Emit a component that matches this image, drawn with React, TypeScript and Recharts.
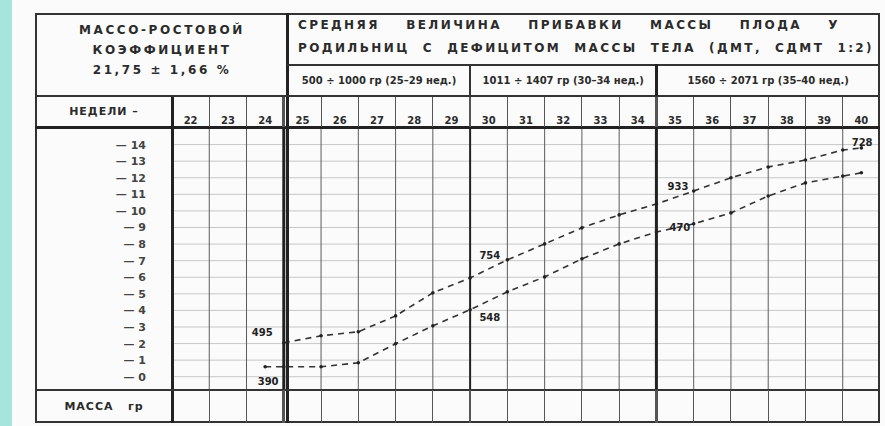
import { LineChart, Line, XAxis, YAxis, ReferenceLine, ReferenceDot } from "recharts";

const WEEKS = ["22", "23", "24", "25", "26", "27", "28", "29", "30", "31", "32", "33", "34", "35", "36", "37", "38", "39", "40"];
const POS = [2.5, 3, 4, 5, 6, 7, 8, 9, 10, 11, 12, 13, 14, 15, 16, 17, 18, 18.5];
const UPPER = [null, 2.05, 2.47, 2.71, 3.67, 5.06, 5.96, 7.05, 8.01, 8.98, 9.76, 10.42, 11.2, 12.0, 12.65, 13.07, 13.67, 13.8];
const LOWER = [0.6, 0.6, 0.6, 0.84, 1.99, 3.07, 4.04, 5.12, 6.02, 7.11, 8.01, 8.73, 9.22, 9.88, 10.9, 11.69, 12.1, 12.3];
const Y_TICKS = [0, 1, 2, 3, 4, 5, 6, 7, 8, 9, 10, 11, 12, 13, 14];
const NOTES = [
  { x: 2.42, y: 2.65, text: "495" },
  { x: 2.58, y: -0.3, text: "390" },
  { x: 8.53, y: 7.3, text: "754" },
  { x: 8.53, y: 3.55, text: "548" },
  { x: 13.58, y: 11.45, text: "933" },
  { x: 13.63, y: 8.98, text: "470" },
  { x: 18.52, y: 14.1, text: "728" },
];
const SUBHEADS = ["500 ÷ 1000 гр (25–29 нед.)", "1011 ÷ 1407 гр (30–34 нед.)", "1560 ÷ 2071 гр (35–40 нед.)"];

const data = POS.map((x, i) => ({ x, upper: UPPER[i], lower: LOWER[i] }));

const FONT = "'DejaVu Sans', sans-serif";
const INK = "#2b2b2b";
const COLS = WEEKS.length;
const PLOT_L = 172;
const PLOT_R = 880;
const colX = (k: number) => PLOT_L + (k * (PLOT_R - PLOT_L)) / COLS;

const box = (left: number, top: number, width: number, height: number, extra: any = {}) => ({
  position: "absolute" as const,
  left,
  top,
  width,
  height,
  boxSizing: "border-box" as const,
  ...extra,
});

function YTick({ y, payload }: any) {
  return (
    <text x={146} y={y + 4} textAnchor="end" fontSize={11} fontFamily={FONT} fontWeight={700} fill="#444">
      {"— " + payload.value}
    </text>
  );
}

export default function App() {
  const lineW = (k: number) => (k === 3 || k === 13 ? 3 : k === 8 ? 2 : 1);
  const cols = Array.from({ length: COLS - 1 }, (_, i) => i + 1);
  const textStyle = { fontFamily: FONT, fontWeight: 700, color: INK };

  return (
    <div style={{ position: "absolute", left: 0, top: 0, width: 885, height: 426, background: "#fbfbfb", overflow: "hidden" }}>
      <div style={box(0, 0, 12, 426, { background: "#a6e4dc" })} />
      <LineChart width={885} height={426} data={data} margin={{ top: 97, right: 5, bottom: 36, left: 112 }}>
        <XAxis
          type="number"
          dataKey="x"
          orientation="top"
          height={31}
          domain={[0, COLS]}
          ticks={WEEKS.map((_, i) => i + 0.5)}
          tickFormatter={(v: number) => WEEKS[Math.floor(v)]}
          axisLine={false}
          tickLine={false}
          tick={{ fontSize: 10, fontFamily: FONT, fontWeight: 700, fill: INK, dy: 4 }}
          interval={0}
        />
        <YAxis
          type="number"
          width={60}
          domain={[-0.8, 15]}
          ticks={Y_TICKS}
          axisLine={false}
          tickLine={false}
          tick={<YTick />}
          interval={0}
        />
        {Y_TICKS.map((t) => (
          <ReferenceLine key={"h" + t} y={t} stroke="#c8c8c8" strokeWidth={1} />
        ))}
        {cols.map((k) => (
          <ReferenceLine key={"v" + k} x={k} stroke={lineW(k) > 1 ? "#222" : "#5c5c5c"} strokeWidth={lineW(k)} />
        ))}
        <Line
          dataKey="upper"
          type="linear"
          stroke="#333"
          strokeWidth={1.6}
          strokeDasharray="6 5"
          dot={{ r: 1.8, fill: "#222", stroke: "none" }}
          isAnimationActive={false}
        />
        <Line
          dataKey="lower"
          type="linear"
          stroke="#333"
          strokeWidth={1.6}
          strokeDasharray="6 5"
          dot={{ r: 1.8, fill: "#222", stroke: "none" }}
          isAnimationActive={false}
        />
        {NOTES.map((n) => (
          <ReferenceDot
            key={n.text}
            x={n.x}
            y={n.y}
            r={0}
            stroke="none"
            fill="none"
            label={{ value: n.text, position: "center", fontSize: 10, fontFamily: FONT, fontWeight: 700, fill: "#222" }}
          />
        ))}
      </LineChart>

      {/* table frame */}
      <div style={box(35, 13, 845, 410, { border: "2px solid #333", pointerEvents: "none" })} />
      <div style={box(286, 13, 3, 410, { background: "#222" })} />
      <div style={box(171, 95, 3, 328, { background: "#222" })} />
      <div style={box(35, 95, 845, 2, { background: "#333" })} />
      <div style={box(287, 64, 593, 2, { background: "#333" })} />
      <div style={box(35, 126, 845, 3, { background: "#222" })} />
      <div style={box(35, 389, 845, 2, { background: "#333" })} />
      <div style={box(colX(8) - 1, 64, 2, 32, { background: "#333" })} />
      <div style={box(colX(13) - 1, 64, 3, 32, { background: "#222" })} />
      {cols.map((k) => (
        <div key={"w" + k}>
          <div style={box(colX(k) - lineW(k) / 2, 97, lineW(k), 30, { background: "#555" })} />
          <div style={box(colX(k) - lineW(k) / 2, 390, lineW(k), 33, { background: "#555" })} />
        </div>
      ))}

      {/* header texts */}
      <div style={box(37, 20, 250, 72, { ...textStyle, fontSize: 12, letterSpacing: 2.6, textAlign: "center", lineHeight: "20px" })}>
        <div>МАССО-РОСТОВОЙ</div>
        <div>КОЭФФИЦИЕНТ</div>
        <div>21,75 ± 1,66 %</div>
      </div>
      <div style={box(298, 14, 576, 50, { ...textStyle, fontSize: 12, letterSpacing: 2.4, lineHeight: "23px" })}>
        <div style={{ textAlign: "justify", textAlignLast: "justify", paddingRight: 34 }}>СРЕДНЯЯ ВЕЛИЧИНА ПРИБАВКИ МАССЫ ПЛОДА У</div>
        <div style={{ textAlign: "justify", textAlignLast: "justify" }}>РОДИЛЬНИЦ С ДЕФИЦИТОМ МАССЫ ТЕЛА (ДМТ, СДМТ 1:2)</div>
      </div>
      {SUBHEADS.map((s, i) => {
        const l = [289, colX(8) + 1, colX(13) + 2][i];
        const r = [colX(8) - 1, colX(13) - 1, 878][i];
        return (
          <div key={s} style={box(l, 66, r - l, 29, { ...textStyle, fontSize: 10, textAlign: "center", lineHeight: "29px", whiteSpace: "nowrap" })}>
            {s}
          </div>
        );
      })}
      <div style={box(37, 97, 134, 29, { ...textStyle, fontSize: 11, letterSpacing: 1, textAlign: "center", lineHeight: "29px" })}>
        НЕДЕЛИ –
      </div>
      <div style={box(37, 391, 134, 31, { ...textStyle, fontSize: 11, letterSpacing: 1, textAlign: "center", lineHeight: "31px" })}>
        МАССА&nbsp;&nbsp;&nbsp;гр
      </div>
    </div>
  );
}
